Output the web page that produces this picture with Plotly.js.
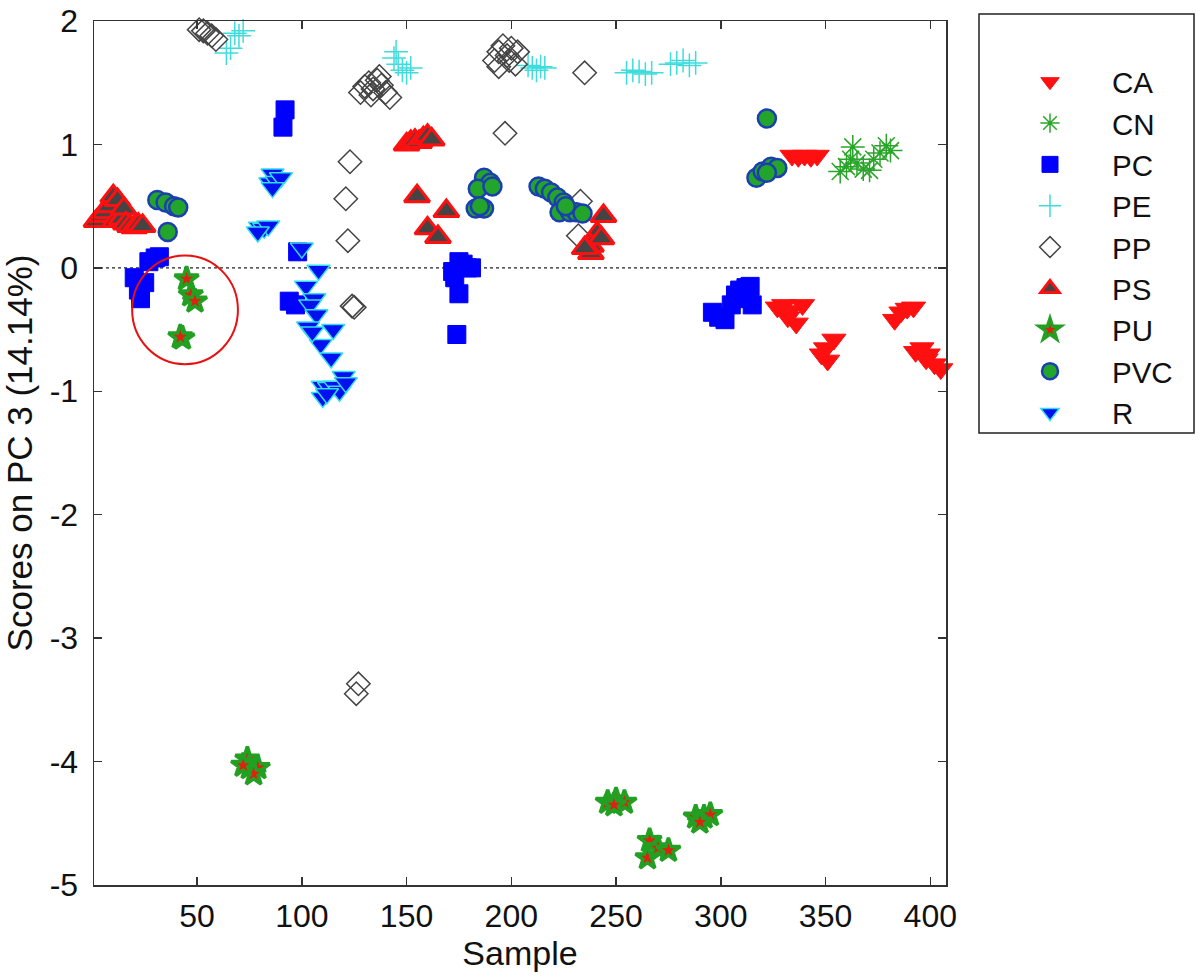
<!DOCTYPE html>
<html>
<head>
<meta charset="utf-8">
<script src="https://cdn.plot.ly/plotly-3.0.1.min.js"></script>
<style>html,body{margin:0;padding:0;background:#fff;}#chart{width:1200px;height:977px;}</style>
</head>
<body>
<div id="chart"></div>
<script>
// ---- data ----
const seriesNames = ["CA","CN","PC","PE","PP","PS","PU","PVC","R"];

const CA_x = [334,337,340,343,346, 327,330,333,336,339,332, 348,351,354,350, 383,386,389,392, 393,396,399,402,405,398];
const CA_y = [0.91,0.90,0.91,0.90,0.91, -0.32,-0.30,-0.35,-0.45,-0.30,-0.40, -0.70,-0.75,-0.58,-0.65, -0.42,-0.36,-0.33,-0.32, -0.68,-0.65,-0.70,-0.78,-0.82,-0.74];

const CN_x = [357,360,362,363,365,368,371,373,376,379,381];
const CN_y = [0.78,0.82,0.88,0.98,0.85,0.80,0.79,0.88,0.93,0.99,0.95];

const PC_x = [20,22,23,25,27,30,32, 91,92, 94,97,98, 172,173,175,177,179,181,175,174, 296,299,302,305,307,309,312,314,315,310];
const PC_y = [-0.08,-0.18,-0.25,-0.12,0.05,0.08,0.09, 1.14,1.28, -0.27,-0.30,0.13, -0.03,-0.08,0.05,0.03,0.00,0.00,-0.21,-0.54, -0.36,-0.40,-0.42,-0.30,-0.22,-0.18,-0.16,-0.15,-0.30,-0.25];

const PE_x = [64,66,68,70,72, 144,145,146,148,150,152, 208,210,212,214,216, 255,258,261,264,267, 276,279,282,285,288];
const PE_y = [1.74,1.78,1.90,1.88,1.92, 1.70,1.75,1.65,1.60,1.58,1.62, 1.64,1.62,1.60,1.63,1.62, 1.58,1.60,1.59,1.57,1.58, 1.65,1.66,1.68,1.64,1.66];

const PP_x = [51,53,55,57,59, 128,130,132,133,134,136,137,138,140,142, 192,194,194,196,198,199,200,202,203, 235,197, 123,121,122,124,125, 127,126, 233,232];
const PP_y = [1.93,1.92,1.90,1.88,1.85, 1.42,1.47,1.50,1.40,1.45,1.52,1.55,1.48,1.42,1.38, 1.68,1.75,1.63,1.80,1.72,1.68,1.78,1.65,1.75, 1.58,1.09, 0.86,0.56,0.22,-0.31,-0.32, -3.37,-3.45, 0.54,0.26];

const PS_x = [2,4,6,8,10,11,12,14,15,16,18,20,22,24, 150,152,154,156,158,160,162, 155, 169,160,165, 244,241,238,238,235,243];
const PS_y = [0.38,0.42,0.45,0.50,0.58,0.38,0.55,0.40,0.48,0.36,0.34,0.33,0.35,0.34, 1.00,1.02,1.03,1.02,1.05,1.07,1.04, 0.58, 0.46,0.32,0.25, 0.42,0.28,0.18,0.12,0.16,0.24];

const PU_x = [45,47,49,43,42, 74,75,79,77,72, 246,250,254,249, 266,265,270,275, 288,292,295,290];
const PU_y = [-0.09,-0.22,-0.27,-0.57,-0.56, -3.98,-4.05,-4.05,-4.10,-4.03, -4.33,-4.31,-4.33,-4.35, -4.64,-4.78,-4.70,-4.72, -4.45,-4.45,-4.43,-4.49];

const PVC_x = [31,35,39,41,36, 187,190,184,191,183,187,185, 213,216,219,222,225,223,228,231,234,226, 317,320,324,327,322,322];
const PVC_y = [0.55,0.53,0.50,0.49,0.29, 0.73,0.69,0.64,0.66,0.48,0.48,0.50, 0.66,0.64,0.61,0.57,0.53,0.45,0.45,0.45,0.44,0.50, 0.73,0.78,0.82,0.81,0.77,1.21];

const R_x = [86,85,88,90,86, 80,82,84,79, 100,108,102,106,104,107,103,115,109,114,105,120,110,113,116,118,110,112,121];
const R_y = [0.76,0.69,0.70,0.73,0.65, 0.33,0.32,0.34,0.29, 0.16,-0.02,-0.15,-0.25,-0.30,-0.38,-0.48,-0.50,-0.62,-0.73,-0.52,-0.88,-0.96,-0.97,-0.96,-1.00,-1.05,-1.02,-0.93];

const xTicks = [50,100,150,200,250,300,350,400];
const yTicks = [-5,-4,-3,-2,-1,0,1,2];
const xTitle = "Sample";
const yTitle = "Scores on PC 3 (14.14%)";
// highlighted region (circled samples)
const circleX = [19, 69.5];
const circleY = [-0.78, 0.10];

// ---- traces ----
function tr(name, x, y, marker) {
  return {type:'scatter', mode:'markers', name:name, x:x, y:y, marker:marker, cliponaxis:false, hoverinfo:'x+y+name'};
}
const traces = [
  tr("CA", CA_x, CA_y, {symbol:'triangle-down', size:21, color:'#ff1010', line:{color:'#ff1010', width:1}}),
  tr("CN", CN_x, CN_y, {symbol:'asterisk-open', size:20, color:'#2aa52a', line:{color:'#2aa52a', width:1.5}}),
  tr("PC", PC_x, PC_y, {symbol:'square', size:18, color:'#0000ff', line:{color:'#0000ff', width:1}}),
  tr("PE", PE_x, PE_y, {symbol:'cross-thin-open', size:17, color:'#3fdcdc', line:{color:'#3fdcdc', width:1.5}}),
  tr("PP", PP_x, PP_y, {symbol:'diamond-open', size:18, color:'#444444', line:{color:'#444444', width:1.5}}),
  tr("PS", PS_x, PS_y, {symbol:'triangle-up', size:22, color:'#444444', line:{color:'#ff1010', width:3}}),
  tr("PU", PU_x, PU_y, {symbol:'star', size:18, color:'#e02010', line:{color:'#22a022', width:3.5}}),
  tr("PVC", PVC_x, PVC_y, {symbol:'circle', size:18, color:'#22a52a', line:{color:'#1c3fb0', width:2.5}}),
  tr("R", R_x, R_y, {symbol:'triangle-down', size:20, color:'#0010ee', line:{color:'#33ddee', width:1.5}})
];

const L = 94, T = 21, W = 852, H = 864;
const legBox = {x0:(979-L)/W, x1:(1194-L)/W, y0:(T+H-433)/H, y1:(T+H-14)/H};

const layout = {
  width:1200, height:977,
  margin:{l:L, r:1200-L-W, t:T, b:977-T-H},
  paper_bgcolor:'#ffffff', plot_bgcolor:'#ffffff',
  font:{family:'"Liberation Sans", Arial, sans-serif', size:32, color:'#111'},
  showlegend:true,
  legend:{x:(988-L)/W, y:(T+H-56)/H, xanchor:'left', yanchor:'top', bgcolor:'rgba(0,0,0,0)', borderwidth:0,
          font:{size:29.5, color:'#111'}, itemwidth:114, tracegroupgap:0},
  xaxis:{range:[0.8,407.5], tickmode:'array', tickvals:xTicks, ticktext:xTicks.map(String),
         ticks:'inside', ticklen:8, tickwidth:1.5, tickcolor:'#333', showline:true, linecolor:'#333', linewidth:1.5,
         mirror:'ticks', showgrid:false, zeroline:false, ticklabelstandoff:2, ticklabeloverflow:'allow',
         title:{text:xTitle, font:{size:34}, standoff:6}},
  yaxis:{range:[-5,2], tickmode:'array', tickvals:yTicks, ticktext:yTicks.map(String),
         ticks:'inside', ticklen:8, tickwidth:1.5, tickcolor:'#333', showline:true, linecolor:'#333', linewidth:1.5,
         mirror:'ticks', showgrid:false, zeroline:false, ticklabelstandoff:8, ticklabeloverflow:'allow',
         title:{text:yTitle, font:{size:35}, standoff:8}},
  shapes:[
    {type:'line', xref:'paper', x0:0, x1:1, yref:'y', y0:0, y1:0, line:{color:'#222', width:1.2, dash:'dot'}, layer:'below'},
    {type:'circle', xref:'x', yref:'y', x0:circleX[0], x1:circleX[1], y0:circleY[0], y1:circleY[1], line:{color:'#e81010', width:2}},
    {type:'rect', xref:'paper', yref:'paper', x0:legBox.x0, x1:legBox.x1, y0:legBox.y0, y1:legBox.y1, line:{color:'#222', width:1.5}}
  ]
};

Plotly.newPlot('chart', traces, layout, {displayModeBar:false, staticPlot:true});
</script>
</body>
</html>
